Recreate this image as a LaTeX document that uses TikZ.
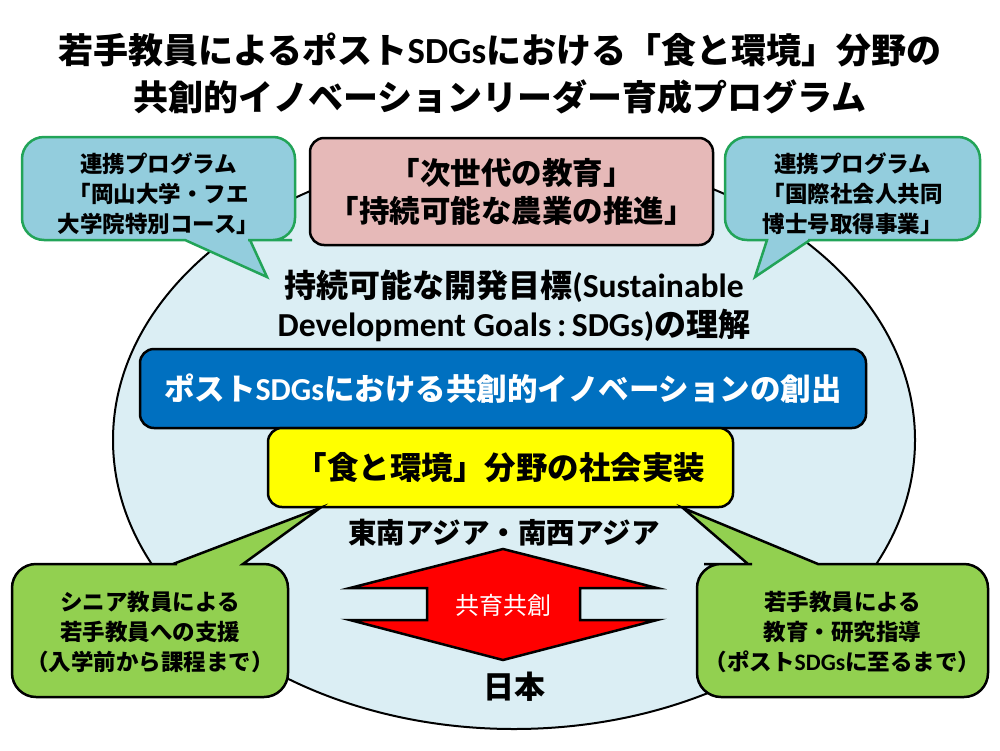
\documentclass[tikz,border=0pt]{standalone}
\usepackage{fontspec}
\setmainfont{Noto Sans CJK JP}
\newfontfamily\carl{Carlito}[Scale=1.05]
\newcommand\latn[1]{{\carl\bfseries #1}}
\definecolor{ellfill}{HTML}{DBEEF4}
\definecolor{calltop}{HTML}{93CDDD}
\definecolor{callborder}{HTML}{22A458}
\definecolor{pinkc}{HTML}{E6B9B8}
\definecolor{bluec}{HTML}{0070C0}
\definecolor{yellowc}{HTML}{FFFF00}
\definecolor{greenc}{HTML}{92D050}
\definecolor{redc}{HTML}{FF0000}
\tikzset{
  box/.style={draw=black, line width=2.5pt, rounded corners=14pt, inner sep=0pt},
  txt/.style={font=\bfseries, align=center, inner sep=0pt},
  calloutA/.style={draw=callborder, fill=calltop, line width=2.5pt, line join=miter},
  calloutB/.style={draw=black, fill=greenc, line width=2.5pt, line join=miter},
  big/.style={font=\fontsize{30.5}{38}\selectfont\bfseries},
  small/.style={font=\fontsize{22.5}{30}\selectfont\bfseries},
}
\begin{document}
\begin{tikzpicture}[x=1pt,y=-1pt]
\useasboundingbox (0,0) rectangle (1000,750);
\fill[white] (0,0) rectangle (1000,750);

% title
\node[txt, font=\fontsize{35}{47}\selectfont\bfseries] (title) at (500,74)
  {若手教員によるポスト\latn{SDGs}における「食と環境」分野の\\共創的イノベーションリーダー育成プログラム};

% big ellipse
\draw[fill=ellfill, line width=2pt] (514,440) ellipse [x radius=401, y radius=289];
\coordinate (ell) at (514,440);

% pink box
\node[box, fill=pinkc, minimum width=403, minimum height=107, align=center, big] (pink) at (511.5,191.5)
  {「次世代の教育」\\「持続可能な農業の推進」};

% SDGs text
\node[txt, font=\fontsize{32}{39}\selectfont\bfseries] (sdg) at (514,306)
  {持続可能な開発目標\latn{(Sustainable}\\\latn{Development Goals\,:\,SDGs)}の理解};

% blue banner
\node[box, fill=bluec, minimum width=726, minimum height=79, text=white, big] (blue) at (503,388.5)
  {ポスト\latn{SDGs}における共創的イノベーションの創出};

% yellow box
\node[box, fill=yellowc, minimum width=465, minimum height=79, font=\fontsize{31.5}{38}\selectfont\bfseries] (yellow) at (500.5,467.5)
  {「食と環境」分野の社会実装};

% region labels
\node[txt, font=\fontsize{28.5}{34}\selectfont\bfseries] (sea) at (504,533) {東南アジア・南西アジア};
\node[txt, font=\fontsize{31}{36}\selectfont\bfseries] (japan) at (514,687) {日本};

% top-left callout
\draw[calloutA] (158,137) [rounded corners=22] -- (295,137) -- (295,240) -- (270,240)
  [sharp corners] -- (250,240) -- (267,277) -- (185,240) -- (165,240)
  [rounded corners=22] -- (22,240) -- (22,137) -- cycle;
\node[txt, small] (tl) at (158.5,194) {連携プログラム\\「岡山大学・フエ\\大学院特別コース」};

% top-right callout
\draw[calloutA] (852,137) [rounded corners=22] -- (980,137) -- (980,240) -- (830,240)
  [sharp corners] -- (810,240) -- (755,277) -- (767,240) -- (747,240)
  [rounded corners=22] -- (725,240) -- (725,137) -- cycle;
\node[txt, small] (tr) at (852.5,194) {連携プログラム\\「国際社会人共同\\博士号取得事業」};

% bottom-left callout
\draw[calloutB] (150,697) [rounded corners=24] -- (12,697) -- (12,564) -- (153,564)
  [sharp corners] -- (173,564) -- (320,508) -- (243,564) -- (263,564)
  [rounded corners=24] -- (288,564) -- (288,697) -- cycle;
\node[txt, small] (bl) at (150,632) {シニア教員による\\若手教員への支援\\（入学前から課程まで）};

% bottom-right callout
\draw[calloutB] (840,697) [rounded corners=24] -- (697,697) -- (697,564) -- (728,564)
  [sharp corners] -- (748,564) -- (683,508) -- (818,564) -- (838,564)
  [rounded corners=24] -- (988,564) -- (988,697) -- cycle;
\node[txt, small] (br) at (842.5,632) {若手教員による\\教育・研究指導\\（ポスト\latn{SDGs}に至るまで）};

% red double arrow
\draw[fill=redc, line width=2.5pt, line join=miter] (503,549) -- (657,588) -- (580,588) -- (580,620)
  -- (657,620) -- (503,660) -- (350,620) -- (427,620) -- (427,588) -- (350,588) -- cycle;
\node[align=center, inner sep=0pt, text=white, font=\fontsize{24}{28}\selectfont] (kyoiku) at (503,605) {共育共創};
\end{tikzpicture}
\end{document}
